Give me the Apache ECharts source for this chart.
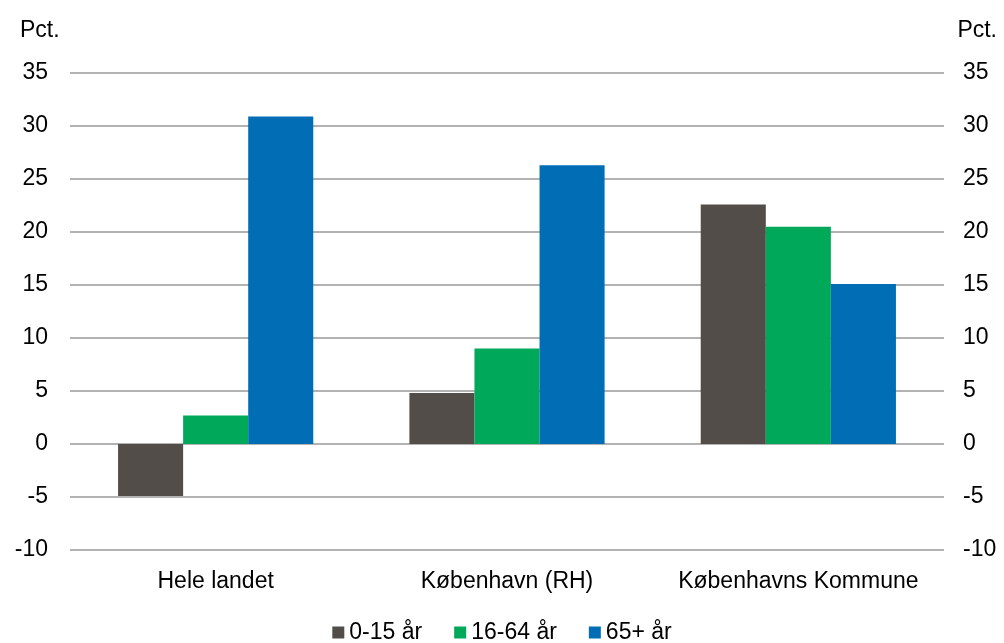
<!DOCTYPE html>
<html>
<head>
<meta charset="utf-8">
<script src="https://cdn.jsdelivr.net/npm/echarts@6/dist/echarts.min.js"></script>
<style>
html,body{margin:0;padding:0;background:#fff;}
#c{width:1004px;height:643px;}
</style>
</head>
<body>
<div id="c"></div>
<script>
const categories = ['Hele landet', 'København (RH)', 'Københavns Kommune'];
const seriesNames = ['0-15 år', '16-64 år', '65+ år'];
const age0to15 = [-4.9, 4.8, 22.6];
const age16to64 = [2.7, 9.0, 20.5];
const age65plus = [30.9, 26.3, 15.1];
const colors = ['#524d49', '#00a85a', '#006db5'];

const font = 'Liberation Sans, Arial, sans-serif';
const fs = 23;
const chart = echarts.init(document.getElementById('c'), null, {renderer: 'canvas'});
const yAxisBase = {
  type: 'value', min: -10, max: 35, interval: 5,
  name: 'Pct.',
  nameGap: 31,
  axisLine: {show: false}, axisTick: {show: false},
  axisLabel: {color: '#000', fontSize: fs, fontFamily: font, margin: 22}
};
chart.setOption({
  animation: false,
  color: colors,
  textStyle: {fontFamily: font},
  grid: {left: 70, right: 60, top: 73, bottom: 93, containLabel: false},
  legend: {
    top: 621, left: 'center', padding: [0, 5],
    icon: 'rect', itemWidth: 12, itemHeight: 12, itemGap: 32,
    textStyle: {color: '#000', fontSize: fs, fontFamily: font},
    data: seriesNames
  },
  xAxis: {
    type: 'category', data: categories,
    axisLine: {show: false}, axisTick: {show: false},
    axisLabel: {color: '#000', fontSize: fs, fontFamily: font, margin: 20, interval: 0, hideOverlap: false}
  },
  yAxis: [
    Object.assign({}, yAxisBase, {
      position: 'left',
      nameTextStyle: {color: '#000', fontSize: fs, fontFamily: font, align: 'left', padding: [0, 0, 0, -50]},
      splitLine: {show: true, lineStyle: {color: '#999', width: 1.5}}
    }),
    Object.assign({}, yAxisBase, {
      position: 'right',
      nameTextStyle: {color: '#000', fontSize: fs, fontFamily: font, align: 'right', padding: [0, -53, 0, 0]},
      axisLabel: Object.assign({}, yAxisBase.axisLabel, {margin: 19}),
      splitLine: {show: false}
    })
  ],
  series: [
    {name: seriesNames[0], type: 'bar', data: age0to15, barGap: '0%', barCategoryGap: '33%'},
    {name: seriesNames[1], type: 'bar', data: age16to64, barGap: '0%', barCategoryGap: '33%'},
    {name: seriesNames[2], type: 'bar', data: age65plus, barGap: '0%', barCategoryGap: '33%'}
  ]
});
</script>
</body>
</html>
